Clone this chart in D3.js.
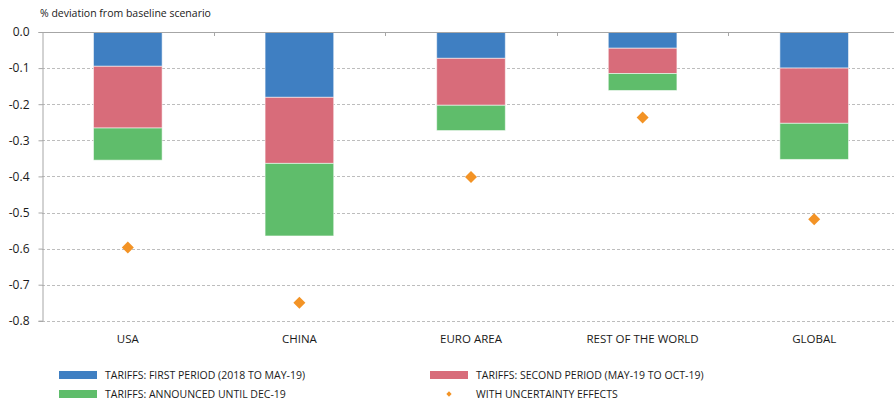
<!DOCTYPE html>
<html>
<head>
<meta charset="utf-8">
<script src="https://cdn.jsdelivr.net/npm/d3@7"></script>
<style>
  body { margin: 0; background: #fff; }
  svg { display: block; font-family: "Open Sans", sans-serif; }
</style>
</head>
<body>
<svg width="894" height="402"></svg>
<script>
// Data
const categories = ["USA", "CHINA", "EURO AREA", "REST OF THE WORLD", "GLOBAL"];
const firstPeriod = [-0.095, -0.181, -0.073, -0.045, -0.100];
const secondPeriod = [-0.171, -0.183, -0.130, -0.070, -0.153];
const announced = [-0.089, -0.201, -0.070, -0.047, -0.100];
const uncertainty = [-0.597, -0.750, -0.402, -0.237, -0.519];
const yTicks = [0, -0.1, -0.2, -0.3, -0.4, -0.5, -0.6, -0.7, -0.8];

const seriesNames = [
    "TARIFFS: FIRST PERIOD (2018 TO MAY-19)",
    "TARIFFS: SECOND PERIOD (MAY-19 TO OCT-19)",
    "TARIFFS: ANNOUNCED UNTIL DEC-19"
];
const colors = ["#3f7fc2", "#d86c7a", "#5fbd6b"];
const diamondColor = "#f39325";

const svg = d3.select("svg");

// table for the stack
const rows = categories.map((c, i) => ({
    cat: c, a: firstPeriod[i], b: secondPeriod[i], c: announced[i]
}));
const stacked = d3.stack().keys(["a", "b", "c"]).offset(d3.stackOffsetDiverging)(rows);

// Scales
const x = d3.scaleBand().domain(categories).range([42, 900]).padding(0);
const y = d3.scaleLinear().domain([-0.8, 0]).range([320.8, 32]);
const barW = x.bandwidth() * 0.4;

// Gridlines
svg.append("g")
    .selectAll("line")
    .data(yTicks.filter(d => d !== 0))
    .join("line")
        .attr("x1", 42).attr("x2", 894)
        .attr("y1", d => Math.round(y(d)) + 0.5).attr("y2", d => Math.round(y(d)) + 0.5)
        .attr("stroke", "#bdbdbd")
        .attr("stroke-dasharray", "3,2");

// Bars (negative stack: d[1] is the top edge, d[0] the bottom)
svg.append("g")
    .selectAll("g")
    .data(stacked)
    .join("g")
        .attr("fill", (d, i) => colors[i])
    .selectAll("rect")
    .data(d => d)
    .join("rect")
        .attr("x", d => x(d.data.cat) + (x.bandwidth() - barW) / 2)
        .attr("y", d => y(d[1]))
        .attr("width", barW)
        .attr("height", d => y(d[0]) - y(d[1]))
        .attr("stroke", "rgba(255,255,255,0.55)")
        .attr("stroke-width", 1);

// Top axis line at zero with ticks between categories
svg.append("line")
    .attr("x1", 42).attr("x2", 894)
    .attr("y1", 32.5).attr("y2", 32.5)
    .attr("stroke", "#a6a6a6");
svg.append("g")
    .selectAll("line")
    .data(categories.slice(1))
    .join("line")
        .attr("x1", d => Math.round(x(d)) + 0.5).attr("x2", d => Math.round(x(d)) + 0.5)
        .attr("y1", 32).attr("y2", 36)
        .attr("stroke", "#a6a6a6");

// Y axis
const yAxis = svg.append("g")
    .attr("transform", "translate(42.5,0)")
    .call(d3.axisLeft(y).tickValues(yTicks).tickFormat(d3.format(".1f")).tickSize(4));
yAxis.select(".domain").attr("stroke", "#a6a6a6");
yAxis.selectAll(".tick line").attr("stroke", "#a6a6a6");
yAxis.selectAll(".tick text")
    .attr("x", -13)
    .attr("fill", "#1a1a1a")
    .style("font-size", "12px")
    .style("font-family", "'Open Sans', sans-serif")
    .text(d => d === 0 ? "0.0" : d3.format(".1f")(d).replace("−", "-"));

// Uncertainty diamonds
svg.append("g")
    .selectAll("path")
    .data(uncertainty)
    .join("path")
        .attr("d", d3.symbol(d3.symbolSquare, 72))
        .attr("transform", (d, i) => `translate(${x(categories[i]) + x.bandwidth() / 2},${y(d)}) rotate(45)`)
        .attr("fill", diamondColor);

// Category labels
svg.append("g")
    .selectAll("text")
    .data(categories)
    .join("text")
        .attr("x", d => x(d) + x.bandwidth() / 2)
        .attr("y", 343)
        .attr("text-anchor", "middle")
        .attr("fill", "#1a1a1a")
        .style("font-size", "11.5px")
        .text(d => d);

// Y axis title
svg.append("text")
    .attr("x", 40)
    .attr("y", 17)
    .attr("fill", "#1a1a1a")
    .style("font-size", "10.5px")
    .text("% deviation from baseline scenario");

// Legend
const legendItems = [
    { name: seriesNames[0], color: colors[0], x: 59, y: 375, type: "rect" },
    { name: seriesNames[1], color: colors[1], x: 430, y: 375, type: "rect" },
    { name: seriesNames[2], color: colors[2], x: 59, y: 394, type: "rect" },
    { name: "WITH UNCERTAINTY EFFECTS", color: diamondColor, x: 430, y: 394, type: "diamond" }
];
const legend = svg.append("g")
    .selectAll("g")
    .data(legendItems)
    .join("g")
        .attr("transform", d => `translate(${d.x},${d.y})`);
legend.filter(d => d.type === "rect")
    .append("rect")
        .attr("x", 0).attr("y", -4)
        .attr("width", 38).attr("height", 8)
        .attr("fill", d => d.color);
legend.filter(d => d.type === "diamond")
    .append("path")
        .attr("d", d3.symbol(d3.symbolSquare, 14))
        .attr("transform", "translate(19,0) rotate(45)")
        .attr("fill", d => d.color);
legend.append("text")
    .attr("x", 46)
    .attr("y", 4)
    .attr("fill", "#1a1a1a")
    .style("font-size", "10.5px")
    .text(d => d.name);
</script>
</body>
</html>
